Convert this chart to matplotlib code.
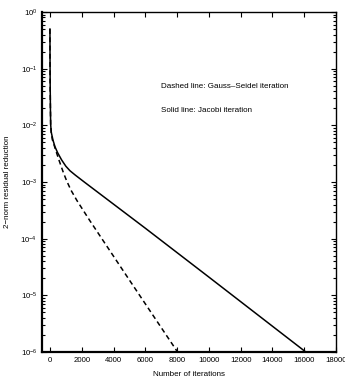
import matplotlib
matplotlib.use("Agg")
import matplotlib.pyplot as plt
from matplotlib.ticker import LogLocator, FixedLocator, NullLocator

# Data
jacobi_iter = [0, 5, 15, 30, 45, 80, 190, 315, 480, 735, 1000, 1260, 1600,
               2200, 6000, 10000, 16100]
jacobi_res = [0.5, 0.15, 0.05, 0.02, 0.0105, 0.0076, 0.0055, 0.0042, 0.0033,
              0.00245, 0.0019, 0.00158, 0.00132, 0.00098, 0.000153, 0.000021,
              1.0e-6]

gs_iter = [0, 5, 15, 30, 45, 80, 150, 250, 375, 565, 840, 1050, 1320, 1700,
           2500, 5000, 8030]
gs_res = [0.5, 0.15, 0.05, 0.02, 0.0105, 0.0076, 0.0056, 0.0046, 0.00355,
          0.00245, 0.00148, 0.00105, 0.00072, 0.00047, 0.00021, 1.86e-5, 1.0e-6]

x_ticks = [0, 2000, 4000, 6000, 8000, 10000, 12000, 14000, 16000, 18000]
x_label = "Number of iterations"
y_label = "2\u2212norm residual reduction"
note_gs = "Dashed line: Gauss\u2013Seidel iteration"
note_j = "Solid line: Jacobi iteration"

fam = ['Liberation Sans', 'DejaVu Sans']
plt.rcParams['font.family'] = fam
plt.rcParams['mathtext.default'] = 'regular'
fs = 5.8
tfs = 5.6

fig = plt.figure(figsize=(3.45, 3.81), dpi=100)
ax = fig.add_axes([42/345, 1-352/381, (336-42)/345, (352-12)/381])

ax.semilogy(jacobi_iter, jacobi_res, color='black', lw=1.1, ls='-')
ax.semilogy(gs_iter, gs_res, color='black', lw=1.1, ls=(0, (3.2, 2.2)))

ax.set_xlim(-500, 18000)
ax.set_ylim(1e-6, 1)
ax.xaxis.set_major_locator(FixedLocator(x_ticks))
ax.xaxis.set_minor_locator(NullLocator())
ax.yaxis.set_major_locator(LogLocator(base=10, numticks=10))
ax.yaxis.set_minor_locator(LogLocator(base=10, subs=range(2, 10), numticks=20))

ax.tick_params(which='both', direction='in', top=True, right=True,
               labelsize=tfs, width=0.8)
ax.tick_params(which='major', length=3.5)
ax.tick_params(which='minor', length=2)
for s in ax.spines.values():
    s.set_linewidth(1.0)
ax.spines['bottom'].set_linewidth(1.6)
ax.spines['left'].set_linewidth(1.6)

ax.set_xlabel(x_label, fontsize=fs, labelpad=5)
ax.set_ylabel(y_label, fontsize=fs, labelpad=6.5)

ax.text(161/345, 1-86/381, note_gs, transform=fig.transFigure, fontsize=fs,
        va='center', ha='left')
ax.text(161/345, 1-110/381, note_j, transform=fig.transFigure, fontsize=fs,
        va='center', ha='left')

fig.savefig("out.png", dpi=100)
